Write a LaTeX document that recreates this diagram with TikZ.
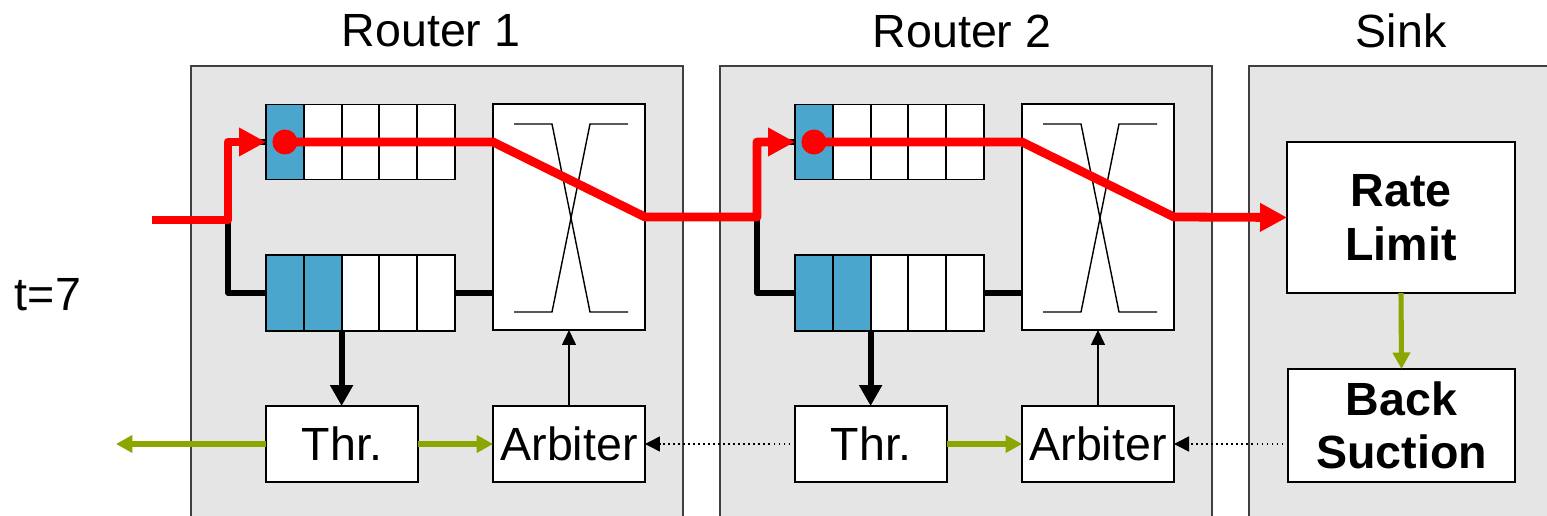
\documentclass[tikz,border=0pt]{standalone}
\usepackage{fontspec}
\setmainfont{Liberation Sans}
\usetikzlibrary{arrows.meta,calc}
\definecolor{boxgray}{HTML}{E5E5E5}
\definecolor{qblue}{HTML}{4BA6CD}
\definecolor{sgreen}{HTML}{8BA600}
\definecolor{pred}{HTML}{FF0000}
\tikzset{
  routerbox/.style={draw=black!75, fill=boxgray, line width=0.85pt},
  cell/.style={draw=black, line width=1.1pt, minimum width=0.756cm, minimum height=1.5cm, inner sep=0pt, outer sep=0pt},
  unit/.style={draw=black, fill=white, line width=1.1pt, inner sep=0pt, outer sep=0pt, align=center},
  lbl/.style={font=\fontsize{26.5}{30.5}\selectfont},
  blbl/.style={font=\fontsize{26.5}{30.5}\selectfont\bfseries},
  xline/.style={black, line width=0.8pt},
  wire/.style={black, line width=3.2pt, line join=round},
  redpath/.style={pred, line width=5pt, line join=round},
  redarrow/.style={redpath, -{Triangle[length=0.54cm, width=0.54cm]}},
  thickarrow/.style={black, line width=3.3pt, -{Triangle[length=0.42cm, width=0.44cm]}},
  thinarrow/.style={black, line width=0.85pt, -{Triangle[length=0.3cm, width=0.28cm]}},
  garrow/.style={sgreen, line width=2.9pt, -{Triangle[length=0.33cm, width=0.34cm]}},
  dotarrow/.style={black, line width=0.85pt, dotted, -{Triangle[length=0.3cm, width=0.3cm]}},
}
\begin{document}
\begin{tikzpicture}[x=0.02cm, y=-0.02cm]
\clip (0,0) rectangle (1547,516);
\fill[white] (0,0) rectangle (1547,516);

% containers
\draw[routerbox] (191,66) rectangle (683,540);
\draw[routerbox] (720,66) rectangle (1212,540);
\draw[routerbox] (1249,66) rectangle (1570,540);

% titles
\node[lbl] (t1) at (431,31) {Router 1};
\node[lbl] (t2) at (962,31) {Router 2};
\node[lbl] (t3) at (1401,31) {Sink};
\node[lbl] (time) at (48,295) {t=7};

\foreach \r/\dx in {1/0,2/529} {
  \begin{scope}[shift={(\dx,0)}]
    \foreach \k/\f in {1/qblue,2/white,3/white,4/white,5/white}
      \node[cell, fill=\f] (q\r-\k) at ({284.9+37.8*(\k-1)},142) {};
    \foreach \k/\f in {1/qblue,2/qblue,3/white,4/white,5/white}
      \node[cell, fill=\f, minimum height=1.52cm] (b\r-\k) at ({284.9+37.8*(\k-1)},293) {};
    \node[unit, minimum width=3.04cm, minimum height=4.52cm] (xb\r) at (569,217) {};
    \draw[xline] (514,124) -- (552,124) -- (590,312) -- (628,312);
    \draw[xline] (628,124) -- (590,124) -- (552,312) -- (514,312);
    \node[unit, lbl, minimum width=3.04cm, minimum height=1.52cm] (thr\r) at (342,444) {Thr.};
    \node[unit, lbl, minimum width=3.04cm, minimum height=1.52cm] (arb\r) at (569,444) {Arbiter};
    \coordinate (split\r) at (228,220);
    \draw[wire] (split\r) -- (228,142) -- (q\r-1.west);
    \draw[wire] (split\r) -- (228,293) -- (b\r-1.west);
    \draw[wire] (q\r-5.east) -- (xb\r.west |- q\r-5.east);
    \draw[wire] (b\r-5.east) -- (xb\r.west |- b\r-5.east);
    \draw[thickarrow] (b\r-2.south east) -- (b\r-2.south east |- thr\r.north);
    \draw[thinarrow] (arb\r.north) -- (xb\r.south);
    \draw[garrow] (thr\r.east) -- (arb\r.west);
  \end{scope}
}

% sink
\node[unit, blbl, minimum width=4.56cm, minimum height=3.02cm] (rl) at (1401,217.5) {Rate\\Limit};
\node[unit, blbl, minimum width=4.54cm, minimum height=2.26cm] (bs) at (1401.5,425.5) {Back\\Suction};
\draw[garrow] (rl.south) -- (bs.north);

% back-pressure signals
\coordinate (out) at (116,444);
\draw[garrow] (thr1.west) -- (out);
\draw[dotarrow] (thr2.west) -- (arb1.east);
\draw[dotarrow] (bs.west |- arb2.east) -- (arb2.east);

% red packet path
\coordinate (in) at (152,220);
\draw[redarrow] (in) -- (228,220) -- (228,142) -- (q1-1.west);
\fill[pred] (q1-1.center) circle[radius=0.25cm];
\draw[redarrow] (q1-1.center) -- (xb1.west |- q1-1.center) -- (xb1.east) -- (757,217) -- (757,142) -- (q2-1.west);
\fill[pred] (q2-1.center) circle[radius=0.25cm];
\draw[redarrow] (q2-1.center) -- (xb2.west |- q2-1.center) -- (xb2.east) -- (rl.west);
\end{tikzpicture}
\end{document}
